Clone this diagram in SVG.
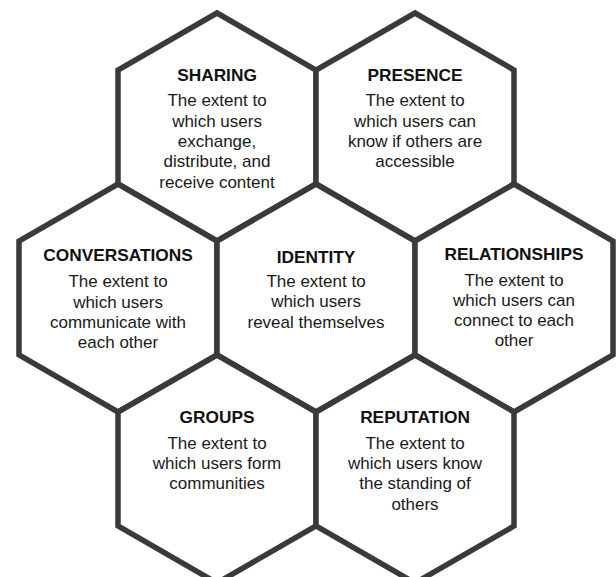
<svg xmlns="http://www.w3.org/2000/svg" width="616" height="577" viewBox="0 0 616 577">
  <style>
    .hex { fill: #ffffff; stroke: #3a3a3a; stroke-width: 5.5; stroke-linejoin: miter; }
    .title { font-family: "Liberation Sans", Arial, sans-serif; font-size: 17.3px; font-weight: bold; fill: #111111; text-anchor: middle; }
    .body { font-family: "Liberation Sans", Arial, sans-serif; font-size: 17px; fill: #1a1a1a; text-anchor: middle; }
  </style>
  <defs>
    <!-- pointy-top hexagon, circumradius 114 -->
    <polygon id="hexShape" points="0,-114 99,-57 99,57 0,114 -99,57 -99,-57"/>
  </defs>
  <rect width="616" height="577" fill="#ffffff"/>

  <g id="connectors"/>

  <g id="sharing" transform="translate(217,127)">
    <use href="#hexShape" class="hex"/>
    <text class="title" x="0" y="-46">SHARING</text>
    <text class="body" x="0" y="-21">The extent to</text>
    <text class="body" x="0" y="-0.5">which users</text>
    <text class="body" x="0" y="19.5">exchange,</text>
    <text class="body" x="0" y="40">distribute, and</text>
    <text class="body" x="0" y="60.5">receive content</text>
  </g>

  <g id="presence" transform="translate(415,127)">
    <use href="#hexShape" class="hex"/>
    <text class="title" x="0" y="-46">PRESENCE</text>
    <text class="body" x="0" y="-21">The extent to</text>
    <text class="body" x="0" y="-0.5">which users can</text>
    <text class="body" x="0" y="19.5">know if others are</text>
    <text class="body" x="0" y="40">accessible</text>
  </g>

  <g id="conversations" transform="translate(118,298)">
    <use href="#hexShape" class="hex"/>
    <text class="title" x="0" y="-37">CONVERSATIONS</text>
    <text class="body" x="0" y="-11">The extent to</text>
    <text class="body" x="0" y="9.5">which users</text>
    <text class="body" x="0" y="29.5">communicate with</text>
    <text class="body" x="0" y="50">each other</text>
  </g>

  <g id="identity" transform="translate(316,298)">
    <use href="#hexShape" class="hex"/>
    <text class="title" x="0" y="-35">IDENTITY</text>
    <text class="body" x="0" y="-11">The extent to</text>
    <text class="body" x="0" y="9">which users</text>
    <text class="body" x="0" y="29.5">reveal themselves</text>
  </g>

  <g id="relationships" transform="translate(514,298)">
    <use href="#hexShape" class="hex"/>
    <text class="title" x="0" y="-38">RELATIONSHIPS</text>
    <text class="body" x="0" y="-12.5">The extent to</text>
    <text class="body" x="0" y="7.5">which users can</text>
    <text class="body" x="0" y="27.5">connect to each</text>
    <text class="body" x="0" y="48">other</text>
  </g>

  <g id="groups" transform="translate(217,469)">
    <use href="#hexShape" class="hex"/>
    <text class="title" x="0" y="-46.5">GROUPS</text>
    <text class="body" x="0" y="-20.5">The extent to</text>
    <text class="body" x="0" y="-0.5">which users form</text>
    <text class="body" x="0" y="20">communities</text>
  </g>

  <g id="reputation" transform="translate(415,469)">
    <use href="#hexShape" class="hex"/>
    <text class="title" x="0" y="-46.5">REPUTATION</text>
    <text class="body" x="0" y="-20.5">The extent to</text>
    <text class="body" x="0" y="-0.5">which users know</text>
    <text class="body" x="0" y="20">the standing of</text>
    <text class="body" x="0" y="40.5">others</text>
  </g>
</svg>
